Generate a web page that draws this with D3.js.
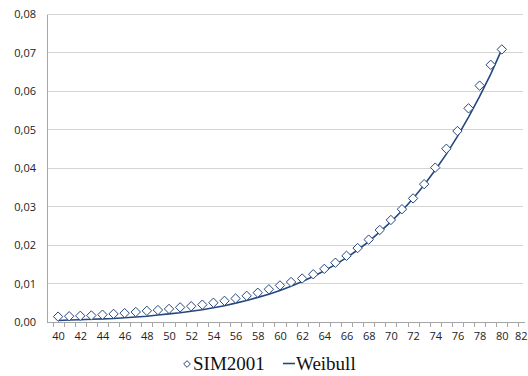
<!DOCTYPE html>
<html>
<head>
<meta charset="utf-8">
<script src="https://cdn.jsdelivr.net/npm/d3@7"></script>
<style>
  html, body { margin: 0; padding: 0; background: #fff; }
  svg { display: block; }
  .tick text { font-family: "Open Sans", sans-serif; font-size: 11px; fill: #222; }
  .legend-text { font-family: "Liberation Serif", "DejaVu Serif", "Times New Roman", serif; font-size: 19px; fill: #111; }
</style>
</head>
<body>
<svg id="chart" width="528" height="376"></svg>
<script>
// Ages on the category axis
const ages = d3.range(40, 81);
// Observed mortality rates (SIM2001 table)
const sim2001 = [
  0.0014, 0.0015, 0.0016, 0.0017, 0.0019, 0.0021, 0.0023, 0.0026, 0.0029, 0.0031,
  0.0034, 0.0038, 0.0041, 0.0045, 0.0050, 0.0055, 0.0061, 0.0068, 0.0076, 0.0085,
  0.0095, 0.0104, 0.0113, 0.0124, 0.0138, 0.0154, 0.0172, 0.0192, 0.0214, 0.0239,
  0.0265, 0.0293, 0.0321, 0.0358, 0.0401, 0.0450, 0.0496, 0.0555, 0.0614, 0.0668,
  0.0708
];
// Fitted Weibull mortality curve
const weibull = [
  0.0004, 0.0005, 0.0006, 0.0007, 0.0008, 0.0009, 0.0011, 0.0013, 0.0015, 0.0018,
  0.0021, 0.0024, 0.0028, 0.0032, 0.0037, 0.0042, 0.0049, 0.0056, 0.0064, 0.0072,
  0.0082, 0.0093, 0.0105, 0.0118, 0.0133, 0.0149, 0.0167, 0.0187, 0.0209, 0.0234,
  0.0260, 0.0289, 0.0321, 0.0356, 0.0395, 0.0436, 0.0482, 0.0532, 0.0586, 0.0644,
  0.0708
];
// Axis labels
const xLabels = d3.range(40, 83, 2);
const yTicks = [0, 0.01, 0.02, 0.03, 0.04, 0.05, 0.06, 0.07, 0.08];
const seriesNames = ["SIM2001", "Weibull"];

const blue = "#24477f";
const gridColor = "#d4d4d4";
const axisColor = "#a6a6a6";

const svg = d3.select("#chart");
const x = d3.scaleLinear().domain([39, 82]).range([47, 524]);
const y = d3.scaleLinear().domain([0, 0.08]).range([322, 14]);

const locale = d3.formatLocale({ decimal: ",", thousands: ".", grouping: [3], currency: ["", ""] });
const fmt = locale.format(".2f");

// Horizontal gridlines
svg.append("g")
  .selectAll("line")
  .data(yTicks.slice(1))
  .join("line")
  .attr("x1", x(39)).attr("x2", 523)
  .attr("y1", d => y(d)).attr("y2", d => y(d))
  .attr("stroke", gridColor).attr("stroke-width", 1)
  .attr("shape-rendering", "crispEdges");

// Y axis: labels only, plus the vertical axis line
const yAxis = svg.append("g")
  .attr("transform", `translate(${x(39)},0)`)
  .call(d3.axisLeft(y).tickValues(yTicks).tickSize(0).tickPadding(11).tickFormat(fmt));
yAxis.select(".domain").attr("stroke", axisColor).attr("shape-rendering", "crispEdges");

// X axis: tick marks between categories
const xTickAxis = svg.append("g")
  .attr("transform", `translate(0,${y(0)})`)
  .call(d3.axisBottom(x).tickValues(d3.range(39.5, 82.5, 1)).tickSize(5).tickSizeOuter(0).tickFormat(""));
xTickAxis.select(".domain").attr("stroke", axisColor).attr("shape-rendering", "crispEdges");
xTickAxis.selectAll(".tick line").attr("stroke", axisColor).attr("shape-rendering", "crispEdges");

// X axis: age labels every two years
const xLabelAxis = svg.append("g")
  .attr("transform", `translate(0,${y(0)})`)
  .call(d3.axisBottom(x).tickValues(xLabels).tickSize(0).tickPadding(10).tickFormat(d3.format("d")));
xLabelAxis.select(".domain").remove();
// keep the last label inside the right edge
xLabelAxis.selectAll(".tick text")
  .filter(d => d === 82)
  .attr("text-anchor", "end")
  .attr("x", 527 - x(82));

// Weibull curve
const line = d3.line()
  .x((d, i) => x(ages[i]))
  .y(d => y(d));
svg.append("path")
  .datum(weibull)
  .attr("d", line)
  .attr("fill", "none")
  .attr("stroke", blue)
  .attr("stroke-width", 1.6);

// SIM2001 diamonds
const diamond = d3.symbol().type(d3.symbolDiamond2).size(56);
svg.append("g")
  .selectAll("path")
  .data(sim2001)
  .join("path")
  .attr("d", diamond)
  .attr("transform", (d, i) => `translate(${x(ages[i])},${y(d)})`)
  .attr("fill", "#fff")
  .attr("stroke", blue)
  .attr("stroke-width", 1);

// Legend
const legend = svg.append("g");
legend.append("path")
  .attr("d", d3.symbol().type(d3.symbolDiamond2).size(28))
  .attr("transform", "translate(187,364)")
  .attr("fill", "#fff").attr("stroke", blue).attr("stroke-width", 1);
legend.append("text").attr("class", "legend-text").attr("x", 193).attr("y", 370).text(seriesNames[0]);
legend.append("line")
  .attr("x1", 283).attr("x2", 295).attr("y1", 363.5).attr("y2", 363.5)
  .attr("stroke", blue).attr("stroke-width", 1.6);
legend.append("text").attr("class", "legend-text").attr("x", 296).attr("y", 370).text(seriesNames[1]);
</script>
</body>
</html>
